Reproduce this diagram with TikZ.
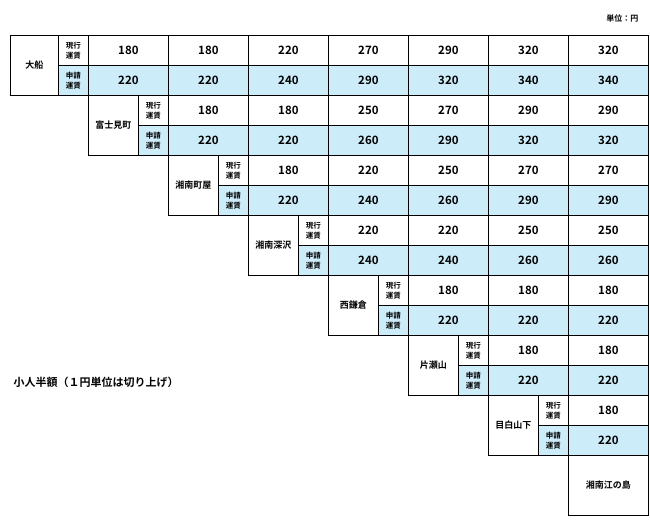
\documentclass[tikz,border=0pt]{standalone}
\usepackage{fontspec}
\setmainfont{Noto Sans CJK JP}[BoldFont={Noto Sans CJK JP Bold}]
\definecolor{newfare}{RGB}{205,236,250}
\begin{document}
\begin{tikzpicture}[x=1pt,y=-1pt,
    box/.style={draw,line width=0.8pt,anchor=north west,inner sep=0pt,font=\bfseries},
    fare/.style={box,minimum width=80pt,minimum height=30pt,font=\fontsize{11.5}{13}\selectfont\bfseries},
    kind/.style={box,minimum width=30pt,minimum height=30pt,align=center,font=\fontsize{7.5}{10}\selectfont\bfseries},
    stop/.style={box,minimum height=60pt,font=\fontsize{9}{11}\selectfont\bfseries}]
  \useasboundingbox (0,0) rectangle (650,525);

  % unit
  \node[anchor=east,font=\fontsize{8}{10}\selectfont\bfseries] (unit) at (642,18) {単位：円};

  % rows of the fare table
  \foreach \i/\st/\now/\new in {
      0/大船/{180,180,220,270,290,320,320}/{220,220,240,290,320,340,340},
      1/富士見町/{180,180,250,270,290,290}/{220,220,260,290,320,320},
      2/湘南町屋/{180,220,250,270,270}/{220,240,260,290,290},
      3/湘南深沢/{220,220,250,250}/{240,240,260,260},
      4/西鎌倉/{180,180,180}/{220,220,220},
      5/片瀬山/{180,180}/{220,220},
      6/目白山下/{180}/{220}} {
    \pgfmathtruncatemacro\sx{\i==0 ? 10 : 8+80*\i}
    \pgfmathtruncatemacro\sw{58+80*\i-\sx}
    \pgfmathtruncatemacro\ty{35+60*\i}
    \pgfmathtruncatemacro\my{65+60*\i}
    \pgfmathtruncatemacro\kx{58+80*\i}
    \node[stop,minimum width=\sw pt] (st\i) at (\sx,\ty) {\st};
    \node[kind] (kn\i) at (\kx,\ty) {現行\\運賃};
    \node[kind,fill=newfare] (kr\i) at (\kx,\my) {申請\\運賃};
    \foreach \v [count=\k from 0] in \now {
      \pgfmathtruncatemacro\fx{88+80*(\i+\k)}
      \node[fare] (now\i-\k) at (\fx,\ty) {\v};
    }
    \foreach \v [count=\k from 0] in \new {
      \pgfmathtruncatemacro\fx{88+80*(\i+\k)}
      \node[fare,fill=newfare] (new\i-\k) at (\fx,\my) {\v};
    }
  }

  % last station
  \node[box,minimum width=80pt,minimum height=60pt,font=\fontsize{9}{11}\selectfont\bfseries] (st7) at (568,455) {湘南江の島};

  % note
  \node[anchor=west,font=\fontsize{11}{13}\selectfont\bfseries] (note) at (10,382) {小人半額（１円単位は切り上げ）};
\end{tikzpicture}
\end{document}
